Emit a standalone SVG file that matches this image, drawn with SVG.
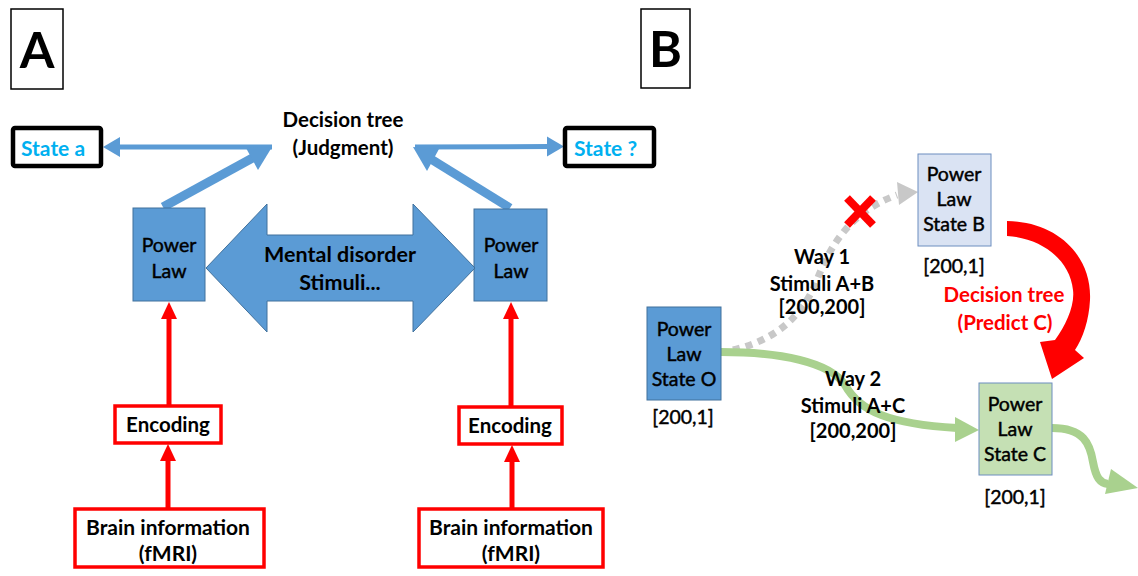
<svg xmlns="http://www.w3.org/2000/svg" width="1138" height="576" viewBox="0 0 1138 576">
<style>
text{font-family:Lato,"Liberation Sans",sans-serif;text-anchor:middle;fill:#000}
.b{font-weight:bold}
.lbl{font-size:50px;font-weight:bold}
.t20{font-size:20.5px}
.t17{font-size:20px;font-weight:bold}
.pl{font-size:19.5px;stroke:#000;stroke-width:0.45}
.cy{fill:#00B0F0;font-weight:bold;font-size:21px;text-anchor:start}
.red{fill:#FF0000}
.plb{fill:#5B9BD5;stroke:#41719C;stroke-width:1}
.rbox{fill:#fff;stroke:#FF0000;stroke-width:3.5}
.kbox{fill:#fff;stroke:#000;stroke-width:4.5}
.blue{stroke:#5B9BD5;fill:none}
.bluef{fill:#5B9BD5}
.redl{stroke:#FF0000;stroke-width:5;fill:none}
.redf{fill:#FF0000}
.grn{stroke:#A9D18E;stroke-width:8;fill:none}
.grnf{fill:#A9D18E}
</style>

<g id="labelA"><rect x="11" y="9" width="52" height="80" fill="#fff" stroke="#000" stroke-width="1.5"/><text x="37" y="68" class="lbl">A</text></g>
<g id="labelB"><rect x="641" y="9" width="49" height="79" fill="#fff" stroke="#000" stroke-width="1.5"/><text x="665.5" y="67" class="lbl">B</text></g>

<g id="connectors">
  <line x1="272" y1="147" x2="118" y2="147" class="blue" stroke-width="5"/>
  <polygon points="103,147 120,137 120,157" class="bluef"/>
  <line x1="163" y1="207" x2="258" y2="155" class="blue" stroke-width="9"/>
  <polygon points="272,147 246,148 258,170" class="bluef"/>
  <line x1="415" y1="147" x2="550" y2="146.5" class="blue" stroke-width="5"/>
  <polygon points="564,146.5 547,136.5 547,156.5" class="bluef"/>
  <line x1="510" y1="208" x2="426" y2="156" class="blue" stroke-width="9"/>
  <polygon points="413,147 439,149 427,171" class="bluef"/>
  <line x1="169" y1="405" x2="169" y2="316" class="redl"/>
  <polygon points="169,302 161,319 177,319" class="redf"/>
  <line x1="168" y1="508" x2="168" y2="458" class="redl"/>
  <polygon points="168,444 160,461 176,461" class="redf"/>
  <line x1="511" y1="406" x2="511" y2="316" class="redl"/>
  <polygon points="511,302 503,319 519,319" class="redf"/>
  <line x1="512" y1="508" x2="512" y2="458" class="redl"/>
  <polygon points="512,445 504,462 520,462" class="redf"/>
  <path d="M733,350 C775,340 800,318 815,285 C830,245 850,212 897,195" stroke="#C8C8C8" stroke-width="7" fill="none" stroke-dasharray="7 6"/>
  <polygon points="918,192 897,182 899,205" fill="#C8C8C8"/>
  <path d="M721,352 C780,352 830,362 845,385 C860,412 890,424 957,428" class="grn"/>
  <polygon points="979,430 955,417 955,442" class="grnf"/>
  <path d="M1052,428 C1084,428 1090,444 1093,462 C1096,478 1100,483 1108,484" class="grn"/>
  <polygon points="1138,488 1111,469 1105,494" class="grnf"/>
  <path d="M1007,221 C1060,222 1092,258 1090,300 C1089,320 1083,338 1075,350 L1084,358 L1052,379 L1040,342 L1055,340 C1066,325 1075,305 1073,290 C1070,260 1042,238 1007,236 Z" class="redf"/>
  <g stroke="#FF0000" stroke-width="8"><line x1="847" y1="198" x2="873" y2="225"/><line x1="873" y1="198" x2="847" y2="225"/></g>
</g>

<g id="decisionA"><text x="343" y="127" class="t20 b">Decision tree</text><text x="343" y="155" class="t20 b">(Judgment)</text></g>
<g id="stateA"><rect x="13" y="128" width="88" height="38" rx="2" class="kbox"/><text x="21" y="156" class="cy">State a</text></g>
<g id="stateQ"><rect x="565" y="128" width="89" height="38" rx="2" class="kbox"/><text x="574" y="156" class="cy">State ?</text></g>

<g id="plLeft"><rect x="133" y="208" width="72" height="93" class="plb"/><text x="169" y="252" class="pl">Power</text><text x="169" y="278" class="pl">Law</text></g>
<g id="plRight"><rect x="474" y="209" width="73" height="92" class="plb"/><text x="511" y="252" class="pl">Power</text><text x="511" y="278" class="pl">Law</text></g>

<g id="doubleArrow">
  <polygon points="206,268 267,204 267,235 413,235 413,204 475,268 413,332 413,301 267,301 267,332" fill="#5B9BD5" stroke="#41719C" stroke-width="1"/>
  <text x="340" y="262" class="b" style="font-size:21.5px">Mental disorder</text>
  <text x="340" y="290" class="b" style="font-size:21.5px">Stimuli...</text>
</g>

<g id="encLeft"><rect x="115" y="406" width="106" height="37" class="rbox"/><text x="168" y="432" class="t20 b">Encoding</text></g>
<g id="encRight"><rect x="459" y="407" width="103" height="37" class="rbox"/><text x="510" y="433" class="t20 b">Encoding</text></g>
<g id="brainLeft"><rect x="75" y="509" width="189" height="58" class="rbox"/><text x="168" y="535" class="b" style="font-size:21px">Brain information</text><text x="168" y="561" class="b" style="font-size:21px">(fMRI)</text></g>
<g id="brainRight"><rect x="419" y="509" width="184" height="58" class="rbox"/><text x="511" y="535" class="b" style="font-size:21px">Brain information</text><text x="511" y="561" class="b" style="font-size:21px">(fMRI)</text></g>

<g id="stateO"><rect x="647" y="307" width="74" height="93" class="plb"/><text x="684" y="336" class="pl">Power</text><text x="684" y="361" class="pl">Law</text><text x="684" y="386" class="pl">State O</text><text x="683" y="424" class="pl">[200,1]</text></g>
<g id="stateB"><rect x="918" y="154" width="73" height="92" fill="#DAE3F3" stroke="#6C8EBF" stroke-width="1"/><text x="954" y="181" class="pl">Power</text><text x="954" y="206" class="pl">Law</text><text x="954" y="231" class="pl">State B</text><text x="954" y="273" class="pl">[200,1]</text></g>
<g id="stateC"><rect x="979" y="383" width="73" height="92" fill="#C5E0B4" stroke="#6C8EBF" stroke-width="1"/><text x="1015" y="411" class="pl">Power</text><text x="1015" y="436" class="pl">Law</text><text x="1015" y="461" class="pl">State C</text><text x="1015" y="504" class="pl">[200,1]</text></g>

<g id="way1"><text x="822" y="264" class="t17">Way 1</text><text x="822" y="291" class="t17">Stimuli A+B</text><text x="822" y="314" class="t17">[200,200]</text></g>
<g id="way2"><text x="853" y="386" class="t17">Way 2</text><text x="853" y="413" class="t17">Stimuli A+C</text><text x="853" y="438" class="t17">[200,200]</text></g>
<g id="decisionB"><text x="1004" y="302" class="t20 b red">Decision tree</text><text x="1005" y="330" class="t20 b red">(Predict C)</text></g>
</svg>
